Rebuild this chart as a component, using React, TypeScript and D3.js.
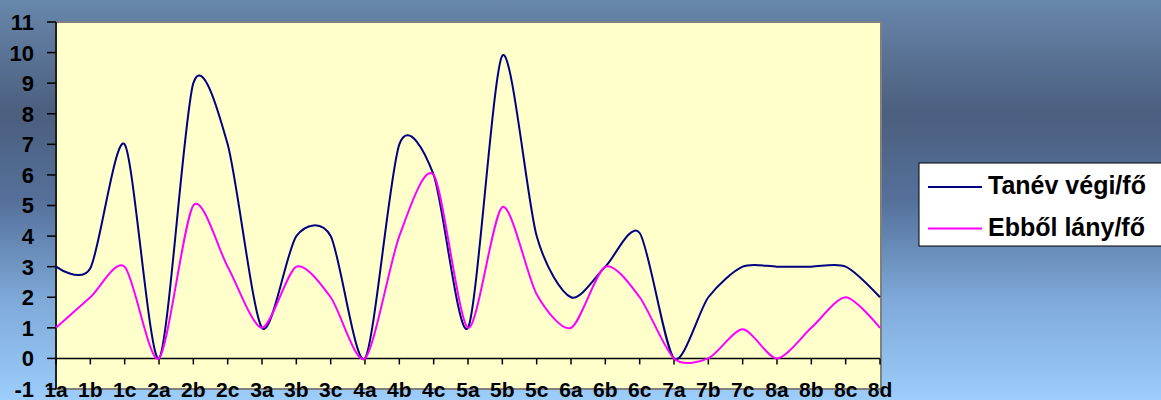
import React from "react";
import * as d3 from "d3";

const categories = ["1a","1b","1c","2a","2b","2c","3a","3b","3c","4a","4b","4c","5a","5b","5c","6a","6b","6c","7a","7b","7c","8a","8b","8c","8d"];
const tanevVegi = [3, 2.95, 7, 0, 9, 7, 1, 4, 4, 0, 7, 6, 1, 9.9, 4, 2, 3, 4.1, 0, 2, 3, 3, 3, 3, 2];
const ebbolLany = [1, 2, 3, 0, 5, 3, 1, 3, 2, 0, 4, 6, 1, 4.95, 2.1, 1, 3, 2, 0, 0, 0.95, 0, 1, 2, 1];
const yTicks = [-1, 0, 1, 2, 3, 4, 5, 6, 7, 8, 9, 10, 11];
const seriesNames = ["Tanév végi/fő", "Ebből lány/fő"];
const seriesColors = ["#000080", "#ff00ff"];

const W = 1161, H = 400;
const left = 56, right = 880, top = 22, bottom = 389;

export default function App() {
  const x = d3.scalePoint<string>().domain(categories).range([left, right]);
  const y = d3.scaleLinear().domain([-1, 11]).range([bottom, top]);
  const line = d3.line<number>()
    .x((_, i) => x(categories[i]) as number)
    .y((d) => y(d))
    .curve(d3.curveCardinal.tension(0.2));
  const series = [tanevVegi, ebbolLany];
  const font = "'Liberation Sans', Arial, sans-serif";
  return (
    <svg width={W} height={H} style={{ position: "absolute", left: 0, top: 0 }} fontFamily={font}>
      <defs>
        <linearGradient id="bg" x1="0" y1="0" x2="0" y2="1">
          <stop offset="0" stopColor="#6887ac" />
          <stop offset="0.28" stopColor="#4b5f7e" />
          <stop offset="0.5" stopColor="#54709a" />
          <stop offset="0.75" stopColor="#7ea9d8" />
          <stop offset="1" stopColor="#9ccdfb" />
        </linearGradient>
      </defs>
      <rect x={0} y={0} width={W} height={H} fill="url(#bg)" />
      <rect x={left} y={top} width={right + 1 - left} height={bottom - top} fill="#ffffcc" stroke="#808080" strokeWidth={2} />
      {/* y axis */}
      <line x1={left} x2={left} y1={top} y2={bottom} stroke="#000" strokeWidth={1.5} />
      {yTicks.map((t) => (
        <g key={t}>
          <line x1={left - 9} x2={left} y1={y(t)} y2={y(t)} stroke="#000" strokeWidth={1.5} />
          <text x={34} y={y(t)} dy="0.36em" textAnchor="end" fontSize={22} fontWeight="bold" fill="#000">{t}</text>
        </g>
      ))}
      {/* x axis */}
      <line x1={left} x2={right} y1={y(0)} y2={y(0)} stroke="#000" strokeWidth={1.5} />
      {categories.map((c) => (
        <g key={c}>
          <line x1={x(c)} x2={x(c)} y1={y(0)} y2={y(0) + 6} stroke="#000" strokeWidth={1.5} />
          <text x={x(c)} y={397} textAnchor="middle" fontSize={21} fontWeight="bold" fill="#000">{c}</text>
        </g>
      ))}
      {series.map((s, i) => (
        <path key={i} d={line(s) || ""} fill="none" stroke={seriesColors[i]} strokeWidth={2} />
      ))}
      {/* legend */}
      <rect x={919} y={163} width={245} height={83} fill="#fff" stroke="#000" strokeWidth={1} />
      {seriesNames.map((n, i) => (
        <g key={n}>
          <line x1={928} x2={982} y1={187 + i * 41.5} y2={187 + i * 41.5} stroke={seriesColors[i]} strokeWidth={2} />
          <text x={988} y={194 + i * 41.5} fontSize={25} fontWeight="bold" fill="#000">{n}</text>
        </g>
      ))}
    </svg>
  );
}
